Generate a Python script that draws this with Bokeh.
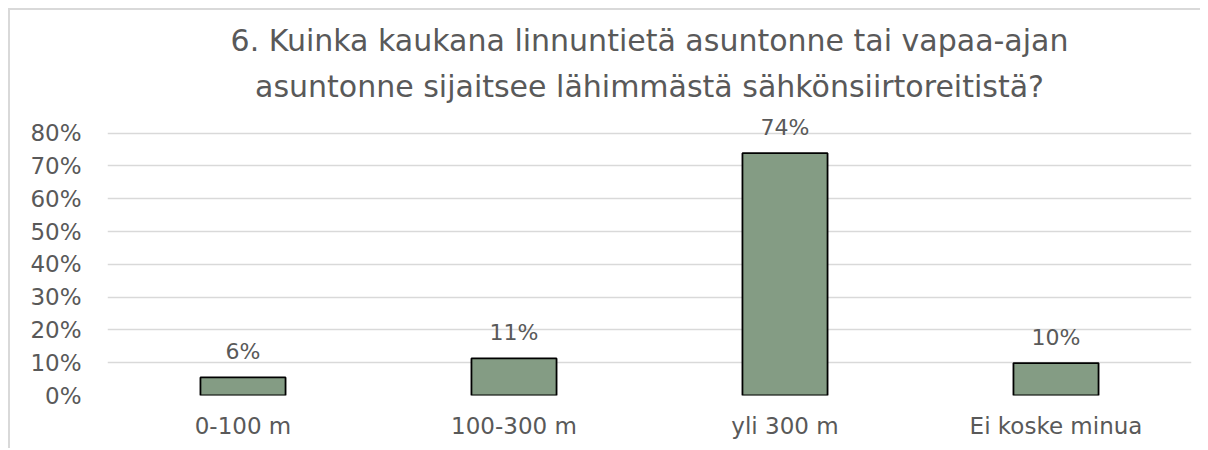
from bokeh.plotting import figure
from bokeh.models import Title, ColumnDataSource, NumeralTickFormatter, FixedTicker
from bokeh.embed import file_html
from bokeh.resources import INLINE

categories = ["0-100 m", "100-300 m", "yli 300 m", "Ei koske minua"]
values = [0.055, 0.113, 0.739, 0.099]
labels = ["6%", "11%", "74%", "10%"]
title_lines = ["6. Kuinka kaukana linnuntietä asuntonne tai vapaa-ajan",
               "asuntonne sijaitsee lähimmästä sähkönsiirtoreitistä?"]
y_ticks = [0, 0.1, 0.2, 0.3, 0.4, 0.5, 0.6, 0.7, 0.8]

FONT = "DejaVu Sans"
TXT = "#595959"

src = ColumnDataSource(dict(cat=categories, val=values, lab=labels))

p = figure(x_range=categories, y_range=(0, 0.86), width=1192, height=440,
           output_backend="svg", toolbar_location=None,
           min_border_left=97, min_border_right=11, min_border_bottom=55, min_border_top=103)

p.styles = {"border-left": "2px solid #d9d9d9", "border-top": "2px solid #d9d9d9",
            "margin-left": "8px", "margin-top": "8px"}

# Titles: later-added goes further up
standoffs = [0, 19]
for line, so in reversed(list(zip(title_lines, standoffs))):
    t = Title(text=line, align="center", text_font=FONT, text_font_size="30px",
              text_color=TXT, text_font_style="normal", standoff=so,
              text_line_height=0.8)
    p.add_layout(t, "above")

p.vbar(x="cat", top="val", width=0.314, source=src, fill_color="#849C84",
       line_color="#000000", line_width=1.8)

p.text(x="cat", y="val", text="lab", source=src, text_align="center",
       text_baseline="bottom", y_offset=-13, text_font={"value": FONT},
       text_font_size="22px", text_color=TXT)

p.yaxis.ticker = FixedTicker(ticks=y_ticks)
p.yaxis.formatter = NumeralTickFormatter(format="0%")
for ax in (p.xaxis, p.yaxis):
    ax.axis_line_color = None
    ax.major_tick_line_color = None
    ax.minor_tick_line_color = None
    ax.major_label_text_font = FONT
    ax.major_label_text_font_size = "23px"
    ax.major_label_text_color = TXT
p.yaxis.major_label_standoff = 20
p.xaxis.major_label_standoff = 11

p.xgrid.grid_line_color = None
p.ygrid.grid_line_color = "#d9d9d9"
p.ygrid.grid_line_width = 1.5
p.outline_line_color = None
p.x_range.range_padding = 0

open("out.html", "w").write(file_html(p, INLINE))
